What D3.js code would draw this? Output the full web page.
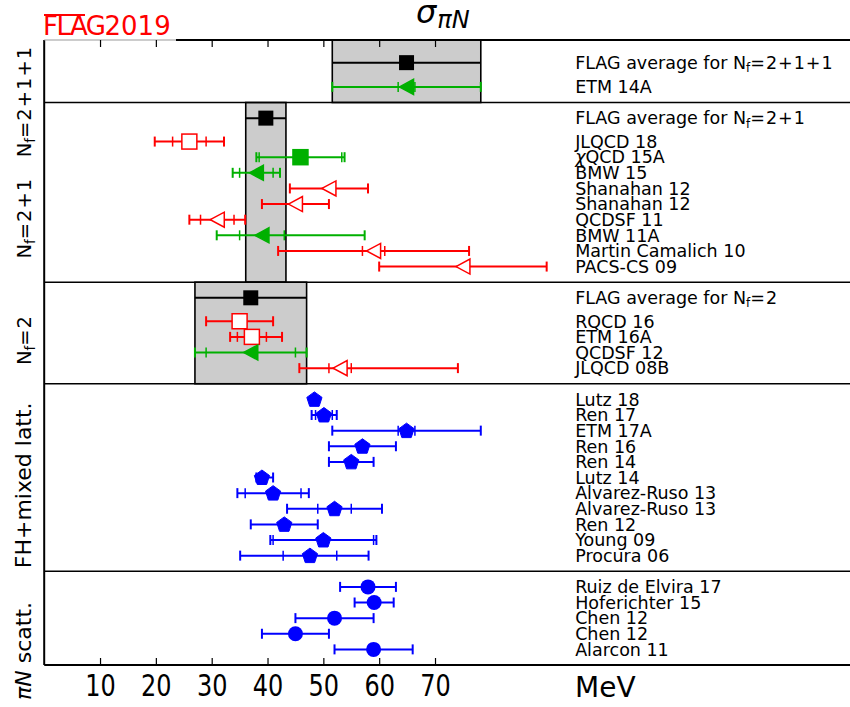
<!DOCTYPE html>
<html><head><meta charset="utf-8">
<script src="https://cdn.jsdelivr.net/npm/d3@7"></script>
<style>body{margin:0;background:#fff}svg{display:block}text{font-family:"DejaVu Sans",sans-serif}</style>
</head><body><svg id="c" width="850" height="707"></svg>
<script>
// ---------------- DATA ----------------
// FLAG averages per lattice panel
const avgPanels = [0, 1, 2];
const avgNf = ["2+1+1", "2+1", "2"];
const avgValues = [64.9, 39.7, 37.0];
const avgErrors = [13.3, 3.6, 10.0];

// panel titles (left, rotated)
const panelTitles = ["Nf=2+1+1", "Nf=2+1", "Nf=2", "FH+mixed latt.", "piN scatt."];

// individual results
const names = ["ETM 14A",
  "JLQCD 18", "χQCD 15A", "BMW 15", "Shanahan 12", "Shanahan 12", "QCDSF 11", "BMW 11A", "Martin Camalich 10", "PACS-CS 09",
  "RQCD 16", "ETM 16A", "QCDSF 12", "JLQCD 08B",
  "Lutz 18", "Ren 17", "ETM 17A", "Ren 16", "Ren 14", "Lutz 14", "Alvarez-Ruso 13", "Alvarez-Ruso 13", "Ren 12", "Young 09", "Procura 06",
  "Ruiz de Elvira 17", "Hoferichter 15", "Chen 12", "Chen 12", "Alarcon 11"];
const panelOf = [0, 1,1,1,1,1,1,1,1,1, 2,2,2,2, 3,3,3,3,3,3,3,3,3,3,3, 4,4,4,4,4];
const values = [64.9,
  26.0, 45.9, 38.0, 51.0, 45.0, 31.0, 39.0, 59.0, 75.0,
  35.0, 37.2, 37.0, 53.0,
  48.4, 50.1, 64.9, 57.0, 55.0, 39.0, 41.0, 52.0, 43.0, 50.0, 47.6,
  58.0, 59.1, 52.0, 45.0, 59.0];
// statistical errors (inner ticks); null = none shown
const statLo = [1.5, 3, 7.4, 3, null, null, 3, 4, 2, null, null, 2.6, 8, 2, null, 1.5, 1.5, null, null, null, 5, 3, null, 9, 4.8, null, null, null, null, null];
const statHi = [1.5, 3, 7.4, 3, null, null, 3, 4, 2, null, null, 2.6, 8, 2, null, 1.5, 1.5, null, null, null, 5, 3, null, 9, 4.8, null, null, null, null, null];
// total errors (outer caps)
const totLo = [13.3, 6.2, 7.9, 4.24, 7, 6, 5, 8.1, 17.1, 15, 6, 3.9, 10, 7.3, null, 2.2, 13.3, 6, 4, 1, 6.4, 8.5, 6, 9.5, 12.5, 5, 3.5, 7, 6, 7];
const totHi = [13.3, 6.2, 7.9, 4.24, 7, 6, 5, 18.4, 17.1, 15, 6, 5.4, 10, 21.1, null, 2.3, 13.3, 6, 4, 2, 6.4, 8.5, 6, 9.5, 10.5, 5, 3.5, 7, 6, 7];
// result category: colour class + symbol class
const kinds = ["g-tri",
  "r-osq", "g-sq", "g-tri", "r-otri", "r-otri", "r-otri", "g-tri", "r-otri", "r-otri",
  "r-osq", "r-osq", "g-tri", "r-otri",
  "b-pent","b-pent","b-pent","b-pent","b-pent","b-pent","b-pent","b-pent","b-pent","b-pent","b-pent",
  "b-circ","b-circ","b-circ","b-circ","b-circ"];
const xTicks = [10, 20, 30, 40, 50, 60, 70];

// ---------------- LAYOUT ----------------
const W = 850, H = 707;
const svg = d3.select("#c");
const x = d3.scaleLinear().domain([0, 145]).range([44.2, 44.2 + 145 * 5.583]);
const y = d3.scaleLinear().domain([0, 40]).range([40, 665]);
const panelLayout = [ {avgAt: 1.45, first: 3}, {avgAt: 1, first: 2.5}, {avgAt: 1, first: 2.5}, {avgAt: null, first: 1}, {avgAt: null, first: 1} ];
const panelStart = [];
{
  let s = 0;
  panelLayout.forEach((p, i) => {
    panelStart.push(s);
    const n = panelOf.filter(v => v === i).length;
    s += p.first + n;
  });
  panelStart.push(s);
}
const rowY = [];
{
  const cnt = [0,0,0,0,0];
  panelOf.forEach((p, i) => { rowY.push(panelStart[p] + panelLayout[p].first + cnt[p]); cnt[p]++; });
}
const colors = {r: "#ff0000", g: "#00b000", b: "#0000ff", k: "#000000"};
const xL = x(0), xR = W;

// ---------------- BANDS ----------------
avgPanels.forEach((p, i) => {
  svg.append("rect")
    .attr("x", x(avgValues[i] - avgErrors[i])).attr("y", y(panelStart[p]))
    .attr("width", x(avgValues[i] + avgErrors[i]) - x(avgValues[i] - avgErrors[i]))
    .attr("height", y(panelStart[p + 1]) - y(panelStart[p]))
    .attr("fill", "#cccccc").attr("stroke", "#000").attr("stroke-width", 1.6);
  const yy = y(panelStart[p] + panelLayout[p].avgAt);
  svg.append("line").attr("x1", x(avgValues[i] - avgErrors[i])).attr("x2", x(avgValues[i] + avgErrors[i]))
    .attr("y1", yy).attr("y2", yy).attr("stroke", "#000").attr("stroke-width", 2);
  svg.append("rect").attr("x", x(avgValues[i]) - 7.5).attr("y", yy - 7.5).attr("width", 15).attr("height", 15).attr("fill", "#000");
});

// ---------------- AXES FRAME ----------------
svg.append("line").attr("x1", xL).attr("x2", xL).attr("y1", y(0)).attr("y2", y(40)).attr("stroke", "#000").attr("stroke-width", 2);
svg.append("line").attr("x1", xL).attr("x2", xR).attr("y1", y(40)).attr("y2", y(40)).attr("stroke", "#000").attr("stroke-width", 2);
svg.append("line").attr("x1", 176).attr("x2", xR).attr("y1", y(0)).attr("y2", y(0)).attr("stroke", "#000").attr("stroke-width", 2);
svg.append("line").attr("x1", xL).attr("x2", 176).attr("y1", y(0)).attr("y2", y(0)).attr("stroke", "#999").attr("stroke-width", 1.2);
panelStart.slice(1, 5).forEach(s => {
  svg.append("line").attr("x1", xL).attr("x2", xR).attr("y1", y(s)).attr("y2", y(s)).attr("stroke", "#000").attr("stroke-width", 1.6);
});
const topAx = svg.append("g").attr("transform", `translate(0,${y(0)})`)
  .call(d3.axisTop(x).tickValues(xTicks).tickSize(-7).tickFormat(""));
topAx.select(".domain").remove();
topAx.selectAll("line").attr("stroke", "#000").attr("stroke-width", 1.2);
const botAx = svg.append("g").attr("transform", `translate(0,${y(40)})`)
  .call(d3.axisBottom(x).tickValues(xTicks).tickSize(-7).tickFormat(d3.format("d")));
botAx.select(".domain").remove();
botAx.selectAll("line").attr("stroke", "#000").attr("stroke-width", 1.2);
botAx.selectAll("text").attr("x", 0).attr("y", 31).attr("dy", 0).attr("font-size", 30).attr("fill", "#000")
  .attr("font-family", "DejaVu Sans").attr("transform", "scale(0.8,1)");
svg.append("text").attr("x", 575).attr("y", 697).attr("font-size", 28).text("MeV");

// ---------------- ERROR BARS & MARKERS ----------------
const capH = 5;
values.forEach((v, i) => {
  const c = colors[kinds[i][0]];
  const yy = y(rowY[i]);
  const g = svg.append("g");
  if (totLo[i] != null) {
    const a = x(v - totLo[i]), b = x(v + totHi[i]);
    g.append("line").attr("x1", a).attr("x2", b).attr("y1", yy).attr("y2", yy).attr("stroke", c).attr("stroke-width", 2);
    [a, b].forEach(px => g.append("line").attr("x1", px).attr("x2", px).attr("y1", yy - capH).attr("y2", yy + capH).attr("stroke", c).attr("stroke-width", 2));
  }
  if (statLo[i] != null) {
    [x(v - statLo[i]), x(v + statHi[i])].forEach(px => g.append("line").attr("x1", px).attr("x2", px).attr("y1", yy - capH).attr("y2", yy + capH).attr("stroke", c).attr("stroke-width", 1.5));
  }
  const cx = x(v), sym = kinds[i].slice(2);
  if (sym === "sq" || sym === "osq") {
    g.append("rect").attr("x", cx - 7.5).attr("y", yy - 7.5).attr("width", 15).attr("height", 15)
      .attr("fill", sym === "sq" ? c : "#fff").attr("stroke", c).attr("stroke-width", 1.5);
  } else if (sym === "tri" || sym === "otri") {
    g.append("path").attr("d", `M${cx - 7},${yy} L${cx + 7},${yy - 7.5} L${cx + 7},${yy + 7.5} Z`)
      .attr("fill", sym === "tri" ? c : "#fff").attr("stroke", c).attr("stroke-width", 1.5);
  } else if (sym === "pent") {
    const r = 8;
    const pts = d3.range(5).map(k => { const a = -Math.PI / 2 + k * 2 * Math.PI / 5; return [cx + r * Math.cos(a), yy + 0.5 + r * Math.sin(a)]; });
    g.append("path").attr("d", "M" + pts.map(p => p.join(",")).join("L") + "Z").attr("fill", c).attr("stroke", c).attr("stroke-width", 1);
  } else if (sym === "circ") {
    g.append("circle").attr("cx", cx).attr("cy", yy).attr("r", 7.5).attr("fill", c);
  }
});

// ---------------- LABELS (right) ----------------
const fsL = 17.5;
const tx = x(95.1);
function nfTspans(t, prefix, rhs, fs) {
  if (prefix) t.append("tspan").text(prefix);
  t.append("tspan").text("N");
  t.append("tspan").attr("font-size", fs * 0.68).attr("dy", fs * 0.18).text("f");
  t.append("tspan").attr("dy", -fs * 0.18).attr("letter-spacing", 1).text("=" + rhs);
}
avgPanels.forEach((p, i) => {
  const t = svg.append("text").attr("x", tx).attr("y", y(panelStart[p] + panelLayout[p].avgAt)).attr("dy", "0.36em").attr("font-size", fsL);
  nfTspans(t, "FLAG average for ", avgNf[i], fsL);
});
names.forEach((n, i) => {
  const t = svg.append("text").attr("x", tx).attr("y", y(rowY[i])).attr("dy", "0.36em").attr("font-size", fsL);
  if (n.startsWith("χ")) {
    t.append("tspan").attr("font-style", "italic").text("χ");
    t.append("tspan").text(n.slice(1));
  } else t.text(n);
});

// ---------------- LABELS (left, rotated) ----------------
const leftCenters = [3.94, 11.4, 19.2, 28.5, 39.1];
panelTitles.forEach((s, i) => {
  const isNf = s.startsWith("Nf=");
  const fs = isNf ? 19.5 : 22;
  const t = svg.append("text").attr("transform", `translate(31,${y(leftCenters[i])}) rotate(-90)`)
    .attr("text-anchor", "middle").attr("font-size", fs);
  if (isNf) nfTspans(t, "", s.slice(3), fs);
  else if (s.startsWith("piN")) {
    t.append("tspan").attr("font-style", "italic").text("πN");
    t.append("tspan").text(" scatt.");
  } else t.text(s);
});

// ---------------- TITLE & LOGO ----------------
const tt = svg.append("text").attr("x", 416).attr("y", 23).attr("font-style", "italic");
tt.append("tspan").attr("font-size", 32).text("σ");
tt.append("tspan").attr("font-size", 24).attr("dy", 5).attr("dx", 1).text("πN");
const logo = svg.append("text").attr("x", 43).attr("y", 35).attr("fill", "#ff0000").attr("font-size", 26);
logo.append("tspan").attr("letter-spacing", -1.5).text("FLAG");
logo.append("tspan").text("2019");
svg.append("line").attr("x1", 44).attr("x2", 85).attr("y1", 15).attr("y2", 15).attr("stroke", "#ff0000").attr("stroke-width", 2);
</script></body></html>
